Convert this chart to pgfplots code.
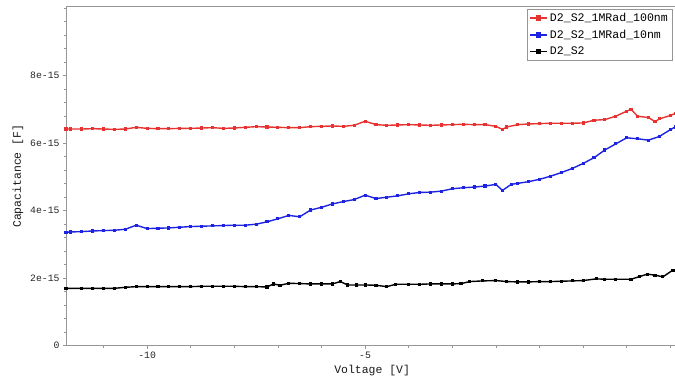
\documentclass[border=0pt]{standalone}
\usepackage{pgfplots}
\pgfplotsset{compat=1.18}
\usepackage{fontspec}
\setmainfont{Liberation Mono}
\definecolor{cred}{RGB}{232,50,50}
\definecolor{cblue}{RGB}{30,35,225}
\definecolor{axgray}{RGB}{150,150,150}
\begin{document}
\begin{tikzpicture}
\begin{axis}[
  x=43.6bp, y=33.75bp,
  xmin=-11.86, xmax=2.18, ymin=0, ymax=10.04,
  axis line style={axgray, line width=0.9pt},
  xtick={-10,-5}, xticklabels={-10,-5},
  minor xtick={-11,-9,-8,-7,-6,-4,-3,-2,-1,0,1,2},
  ytick={0,2,4,6,8}, yticklabels={0,2e-15,4e-15,6e-15,8e-15},
  minor ytick={0.4,0.8,...,10},
  xtick pos=bottom, ytick pos=left,
  tick align=outside,
  major tick length=3bp, minor tick length=2bp,
  every tick/.style={axgray, line width=0.7pt},
  tick label style={font=\fontsize{9.8}{10}\selectfont, text=black!85},
  xlabel={Voltage [V]}, ylabel={Capacitance [F]},
  label style={font=\fontsize{11.5}{12}\selectfont, text=black!90},
  legend style={at={(axis cs:-1.28,9.98)}, anchor=north west, draw=axgray,
    font=\fontsize{11.6}{13.5}\selectfont, inner sep=2pt, row sep=3pt,
    cells={anchor=west}},
  legend image post style={mark size=2pt, line width=1.5pt},
  every axis plot/.append style={line width=1.4pt, mark=square*, mark size=0.9pt},
]
\addplot[cred, mark options={fill=cred}] coordinates {
(-11.86,6.42)(-11.75,6.42)(-11.5,6.42)(-11.25,6.43)(-11.0,6.42)(-10.75,6.41)(-10.5,6.42)(-10.25,6.47)(-10.0,6.44)
(-9.75,6.43)(-9.5,6.43)(-9.25,6.44)(-9.0,6.44)(-8.75,6.45)(-8.5,6.46)(-8.25,6.44)(-8.0,6.45)(-7.75,6.47)(-7.5,6.49)
(-7.25,6.48)(-7.0,6.47)(-6.75,6.46)(-6.5,6.46)(-6.25,6.49)(-6.0,6.50)(-5.75,6.51)(-5.5,6.50)(-5.25,6.53)(-5.0,6.65)
(-4.75,6.55)(-4.5,6.53)(-4.25,6.54)(-4.0,6.55)(-3.75,6.54)(-3.5,6.53)(-3.25,6.54)(-3.0,6.55)(-2.75,6.56)(-2.5,6.55)
(-2.25,6.55)(-2.0,6.50)(-1.85,6.41)(-1.75,6.48)(-1.5,6.55)(-1.25,6.57)(-1.0,6.58)(-0.75,6.59)(-0.5,6.59)(-0.25,6.59)
(0.0,6.60)(0.25,6.68)(0.5,6.70)(0.75,6.80)(1.0,6.95)(1.1,7.0)(1.25,6.80)(1.5,6.76)(1.65,6.64)(1.75,6.72)(2.0,6.82)(2.11,6.88)
};
\addlegendentry{D2\_S2\_1MRad\_100nm}
\addplot[cblue, mark options={fill=cblue}] coordinates {
(-11.86,3.36)(-11.75,3.37)(-11.5,3.38)(-11.25,3.40)(-11.0,3.41)(-10.75,3.42)(-10.5,3.45)(-10.25,3.57)(-10.0,3.47)
(-9.75,3.48)(-9.5,3.49)(-9.25,3.51)(-9.0,3.53)(-8.75,3.54)(-8.5,3.55)(-8.25,3.56)(-8.0,3.57)(-7.75,3.57)(-7.5,3.60)
(-7.25,3.67)(-7.0,3.76)(-6.75,3.86)(-6.5,3.82)(-6.25,4.02)(-6.0,4.10)(-5.75,4.20)(-5.5,4.27)(-5.25,4.33)(-5.0,4.46)
(-4.75,4.36)(-4.5,4.40)(-4.25,4.44)(-4.0,4.50)(-3.75,4.54)(-3.5,4.55)(-3.25,4.58)(-3.0,4.65)(-2.75,4.68)(-2.5,4.70)
(-2.25,4.73)(-2.0,4.78)(-1.85,4.60)(-1.65,4.78)(-1.5,4.81)(-1.25,4.86)(-1.0,4.93)(-0.75,5.02)(-0.5,5.13)(-0.25,5.25)
(0.0,5.40)(0.25,5.57)(0.5,5.80)(0.75,5.98)(1.0,6.16)(1.25,6.13)(1.5,6.09)(1.75,6.20)(2.0,6.40)(2.11,6.48)
};
\addlegendentry{D2\_S2\_1MRad\_10nm}
\addplot[black, mark options={fill=black}] coordinates {
(-11.86,1.70)(-11.5,1.70)(-11.25,1.70)(-11.0,1.70)(-10.75,1.70)(-10.5,1.73)(-10.25,1.75)(-10.0,1.75)(-9.75,1.75)(-9.5,1.75)(-9.25,1.75)(-9.0,1.75)
(-8.75,1.76)(-8.5,1.76)(-8.25,1.76)(-8.0,1.76)(-7.75,1.75)(-7.5,1.75)(-7.25,1.74)(-7.1,1.83)(-6.95,1.79)(-6.75,1.85)(-6.5,1.84)(-6.25,1.83)(-6.0,1.83)
(-5.75,1.83)(-5.57,1.90)(-5.4,1.80)(-5.2,1.80)(-5.0,1.80)(-4.75,1.79)(-4.5,1.75)(-4.3,1.82)(-4.0,1.82)(-3.75,1.82)(-3.5,1.83)(-3.25,1.83)(-3.0,1.83)
(-2.8,1.84)(-2.6,1.90)(-2.3,1.92)(-2.0,1.93)(-1.75,1.90)(-1.5,1.89)(-1.25,1.89)(-1.0,1.90)(-0.75,1.90)(-0.5,1.91)(-0.25,1.92)(0.0,1.93)(0.3,1.98)
(0.5,1.97)(0.75,1.97)(1.1,1.97)(1.3,2.05)(1.47,2.12)(1.65,2.09)(1.83,2.04)(2.06,2.24)(2.11,2.24)
};
\addlegendentry{D2\_S2}
\coordinate (O) at (rel axis cs:0,0);
\end{axis}
\pgfresetboundingbox
\path[use as bounding box] ([shift={(-66bp,-41.3bp)}]O) rectangle ([shift={(609bp,345.7bp)}]O);
\end{tikzpicture}
\end{document}
